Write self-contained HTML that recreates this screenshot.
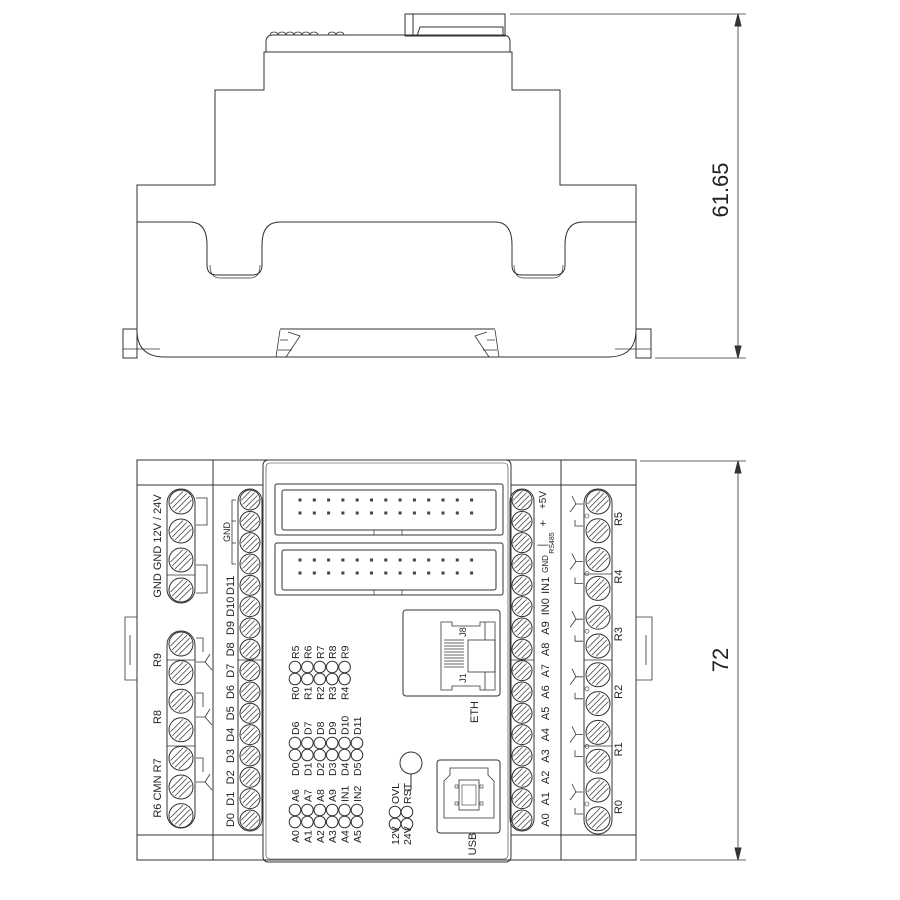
<!DOCTYPE html>
<html><head><meta charset="utf-8"><style>
html,body{margin:0;padding:0;background:#fff;width:900px;height:900px;overflow:hidden}
svg{display:block}
text{font-family:"Liberation Sans",Arial,sans-serif;fill:#222}
</style></head><body>
<svg id="s" width="900" height="900" viewBox="0 0 900 900" xmlns="http://www.w3.org/2000/svg" fill="none" stroke="#333" stroke-width="1">
<!-- TOP VIEW -->
<rect x="405" y="14" width="100" height="22" />
<line x1="413" y1="14" x2="413" y2="36"/>
<path d="M417 36 L420 27 L503 27 L503 36"/>
<path d="M266 52 L266 42 Q266 35 273 35 L503 35 Q510 35 510 42 L510 52"/>
<g stroke-width="0.8">
<path d="M270 35 a4 3 0 0 1 8 0 M278 35 a4 3 0 0 1 8 0 M286 35 a4 3 0 0 1 8 0 M294 35 a4 3 0 0 1 8 0 M302 35 a4 3 0 0 1 8 0 M310 35 a4 3 0 0 1 8 0 M328 35 a4 3 0 0 1 8 0 M336 35 a4 3 0 0 1 8 0"/>
</g>
<path d="M137 358 L137 185 L215 185 L215 90 L264 90 L264 52 L512 52 L512 90 L560 90 L560 185 L636 185 L636 358"/>
<path d="M137 222 L190 222 Q207 222 207 245 L207 265 Q207 275 217 275 L252 275 Q262 275 262 265 L262 245 Q262 222 280 222 L495 222 Q512 222 512 245 L512 265 Q512 275 522 275 L555 275 Q565 275 565 265 L565 245 Q565 222 583 222 L636 222"/>
<path d="M210 265 Q210 278 220 278 L250 278 Q260 278 260 265" stroke-width="0.7"/>
<path d="M514 265 Q514 278 524 278 L553 278 Q563 278 563 265" stroke-width="0.7"/>
<path d="M137 330 Q137 357 165 357 L608 357 Q636 357 636 330"/>
<rect x="123" y="329" width="14" height="29"/><line x1="123" y1="349" x2="160" y2="349" stroke-width="0.7"/>
<rect x="636" y="329" width="15" height="29"/><line x1="615" y1="349" x2="651" y2="349" stroke-width="0.7"/>
<path d="M280 330 L276 357 M288 332 L300 336 L286 357 M280 340 L288 340 M278 350 L292 350" stroke-width="0.8"/>
<path d="M495 330 L499 357 M487 332 L475 336 L489 357 M495 340 L487 340 M497 350 L483 350" stroke-width="0.8"/>
<line x1="280" y1="329" x2="495" y2="329"/>
<!-- dims -->
<line x1="510" y1="14" x2="746" y2="14" stroke-width="0.8"/>
<line x1="655" y1="358" x2="746" y2="358" stroke-width="0.8"/>
<line x1="738" y1="14" x2="738" y2="358" stroke-width="0.8"/>
<path d="M738 14 l-3 12 h6z M738 358 l-3 -12 h6z" fill="#333"/>
<text x="728" y="190" transform="rotate(-90 728 190)" text-anchor="middle" font-size="22" stroke="none">61.65</text>
<line x1="640" y1="461" x2="746" y2="461" stroke-width="0.8"/>
<line x1="640" y1="860" x2="746" y2="860" stroke-width="0.8"/>
<line x1="738" y1="461" x2="738" y2="860" stroke-width="0.8"/>
<path d="M738 461 l-3 12 h6z M738 860 l-3 -12 h6z" fill="#333"/>
<text x="728" y="660" transform="rotate(-90 728 660)" text-anchor="middle" font-size="22" stroke="none">72</text>
<!-- BOTTOM VIEW frame -->
<rect x="137" y="460" width="499" height="400"/>
<line x1="137" y1="485" x2="263" y2="485"/><line x1="511" y1="485" x2="636" y2="485"/>
<line x1="137" y1="835" x2="263" y2="835"/><line x1="511" y1="835" x2="636" y2="835"/>
<line x1="213" y1="460" x2="213" y2="860"/><line x1="561" y1="460" x2="561" y2="860"/>
<rect x="263" y="460" width="248" height="402" rx="5"/>
<rect x="266" y="463" width="242" height="396" rx="4" stroke-width="0.6"/>
<path d="M137 617 L125 617 L125 680 L137 680 M130 635 L130 665" stroke-width="0.8"/>
<path d="M636 617 L652 617 L652 680 L636 680 M646 635 L646 665" stroke-width="0.8"/>
<!-- headers -->
<rect x="275" y="484" width="228" height="51" rx="2"/><rect x="282" y="490" width="214" height="40" rx="2"/>
<path d="M374 530 v5 M402 530 v5" stroke-width="0.7"/>
<rect x="275" y="543" width="228" height="52" rx="2"/><rect x="282" y="550" width="214" height="40" rx="2"/>
<path d="M374 590 v5 M402 590 v5" stroke-width="0.7"/>
<g id="pins"></g>
<!-- ETH -->
<rect x="403" y="610" width="97" height="86" rx="3"/>
<path d="M441 622 L452 622 L452 626 L480 626 L480 622 L495 622 L495 690 L480 690 L480 686 L452 686 L452 690 L441 690 Z" stroke-width="0.8"/>
<rect x="468" y="640" width="27" height="32" stroke-width="0.8"/>
<path d="M485 622 v18 M485 672 v18" stroke-width="0.8"/>
<g stroke-width="0.8"><path d="M444 640 h20 M444 643 h20 M444 646 h20 M444 649 h20 M444 652 h20 M444 655 h20 M444 658 h20 M444 661 h20 M444 664 h20 M444 667 h20"/></g>
<text x="466" y="632" transform="rotate(-90 466 632)" font-size="9" stroke="none" text-anchor="middle">J8</text>
<text x="466" y="678" transform="rotate(-90 466 678)" font-size="9" stroke="none" text-anchor="middle">J1</text>
<text x="478" y="712" transform="rotate(-90 478 712)" font-size="11" stroke="none" text-anchor="middle">ETH</text>
<!-- USB -->
<rect x="437" y="760" width="63" height="73" rx="3"/>
<path d="M450 768 L488 768 L488 775 L494 781 L494 818 L444 818 L444 781 L450 775 Z" stroke-width="0.8"/>
<rect x="459" y="780" width="20" height="30" stroke-width="0.8"/><rect x="462" y="785" width="14" height="20" stroke-width="0.6"/>
<rect x="455" y="785" width="3" height="3" stroke-width="0.6"/><rect x="455" y="802" width="3" height="3" stroke-width="0.6"/>
<rect x="480" y="785" width="3" height="3" stroke-width="0.6"/><rect x="480" y="802" width="3" height="3" stroke-width="0.6"/>
<text x="476" y="844" transform="rotate(-90 476 844)" font-size="11" stroke="none" text-anchor="middle">USB</text>
<circle cx="411" cy="763" r="11"/><line x1="411" y1="774" x2="411" y2="790"/><line x1="404" y1="790" x2="411" y2="790"/>
<g id="dyn"></g>
</svg>
<script>
var NS="http://www.w3.org/2000/svg";
function el(t,a,p,txt){var e=document.createElementNS(NS,t);for(var k in a)e.setAttribute(k,a[k]);if(txt!==undefined)e.textContent=txt;(p||document.getElementById('dyn')).appendChild(e);return e;}
var pins=document.getElementById('pins');
for(var i=0;i<13;i++){var x=300+i*14.3;[500,513,560,573].forEach(function(y){el('rect',{x:x-1.5,y:y-1.5,width:3,height:3,fill:'#444',stroke:'none'},pins);});}
function screw(cx,cy,r){el('circle',{cx:cx,cy:cy,r:r,fill:'#fff'});
 for(var d=-6;d<=6;d+=4){var L=Math.sqrt(r*r-d*d)-1.5;var c=.7071;
  var mx=cx+d*c,my=cy+d*c;el('line',{x1:mx-L*c,y1:my+L*c,x2:mx+L*c,y2:my-L*c,'stroke-width':0.7});}}
function vt(x,y,s,fs,anchor){el('text',{x:x,y:y,transform:'rotate(-90 '+x+' '+y+')','font-size':fs||11,stroke:'none','text-anchor':anchor||'middle'},null,s);}
// left power group
el('rect',{x:167,y:489,width:28,height:114,rx:14});
el('line',{x1:167,y1:575,x2:195,y2:575,'stroke-width':0.7});
[502,531,560,590].forEach(function(y){screw(181,y,12);});
el('path',{d:'M196 498 H207 V525 H196 M196 565 H207 V593 H196','stroke-width':0.8});
vt(161,546,'GND GND 12V / 24V',11);
// left relay group
el('rect',{x:167,y:631,width:28,height:197,rx:14});
el('line',{x1:167,y1:660,x2:195,y2:660,'stroke-width':0.7});el('line',{x1:167,y1:746,x2:195,y2:746,'stroke-width':0.7});
for(var i=0;i<7;i++)screw(181,644+i*28.6,12);
[[650,'sw'],[705,'sw'],[770,'y']].forEach(function(a){var y=a[0];el('path',{d:'M196 '+(y-12)+' H203 V'+(y+2)+' M196 '+(y+12)+' L205 '+(y+12)+' L210 '+(y+4)+' M205 '+(y+12)+' L212 '+(y+20),'stroke-width':0.8});});
vt(161,660,'R9',11);vt(161,717,'R8',11);vt(161,788,'R6 CMN R7',11);
// D column
el('rect',{x:238,y:489,width:24,height:342,rx:12});el('line',{x1:238,y1:660,x2:262,y2:660,'stroke-width':0.7});
var dl=['D0','D1','D2','D3','D4','D5','D6','D7','D8','D9','D10','D11'];
for(var i=0;i<16;i++){var y=500+i*21.33;screw(250,y,10);}
for(var i=0;i<12;i++){var y=820-i*21.33;vt(234,y,dl[i],11);}
el('path',{d:'M236 500 H232 V564 H236 M232 521 H236 M232 543 H236','stroke-width':0.8});
vt(230,532,'GND',9);
// A column
el('rect',{x:510,y:489,width:24,height:342,rx:12});el('line',{x1:510,y1:660,x2:534,y2:660,'stroke-width':0.7});
var al=['A0','A1','A2','A3','A4','A5','A6','A7','A8','A9','IN0','IN1'];
for(var i=0;i<16;i++){var y=500+i*21.33;screw(522,y,10);}
for(var i=0;i<12;i++){var y=820-i*21.33;vt(549,y,al[i],11);}
vt(548,564,'GND',8);vt(546,500,'+5V',10);
el('text',{x:543,y:548,'font-size':11,stroke:'none','text-anchor':'middle'},null,'—');
el('text',{x:543,y:527,'font-size':11,stroke:'none','text-anchor':'middle'},null,'+');
vt(554,543,'RS485',7);
// right relay column
el('rect',{x:584,y:489,width:28,height:345,rx:14});
for(var i=0;i<12;i++){screw(598,502+i*28.8,12);}
[574,660,746].forEach(function(y){el('line',{x1:584,y1:y,x2:612,y2:y,'stroke-width':0.7});});
var rl=['R5','R4','R3','R2','R1','R0'];
for(var i=0;i<6;i++){var y=516+i*57.6;vt(622,y+3,rl[i],11);
 el('path',{d:'M583 '+(y+10)+' H575 V'+(y+4)+' M583 '+(y-12)+' L576 '+(y-12)+' L570 '+(y-4)+' M576 '+(y-12)+' L572 '+(y-20),'stroke-width':0.8});
 el('circle',{cx:587,cy:y,r:2,'stroke-width':0.6});}
// LED grid
function ledcol(x,y0,t1,t2){vt(x,y0,t1,10.5,'start');el('circle',{cx:x-4,cy:y0-21,r:5.8});el('circle',{cx:x-4,cy:y0-33,r:5.8});vt(x,y0-41,t2,10.5,'start');}
var A1=['A0','A1','A2','A3','A4','A5'],A2=['A6','A7','A8','A9','IN1','IN2'];
var D1=['D0','D1','D2','D3','D4','D5'],D2=['D6','D7','D8','D9','D10','D11'];
var R1=['R0','R1','R2','R3','R4'],R2=['R5','R6','R7','R8','R9'];
for(var i=0;i<6;i++){var x=299+i*12.4;ledcol(x,843,A1[i],A2[i]);ledcol(x,776,D1[i],D2[i]);if(i<5)ledcol(x,700,R1[i],R2[i]);}
ledcol(399,845,'12V','OVL');ledcol(411,845,'24V','RST');
</script>
</body></html>
